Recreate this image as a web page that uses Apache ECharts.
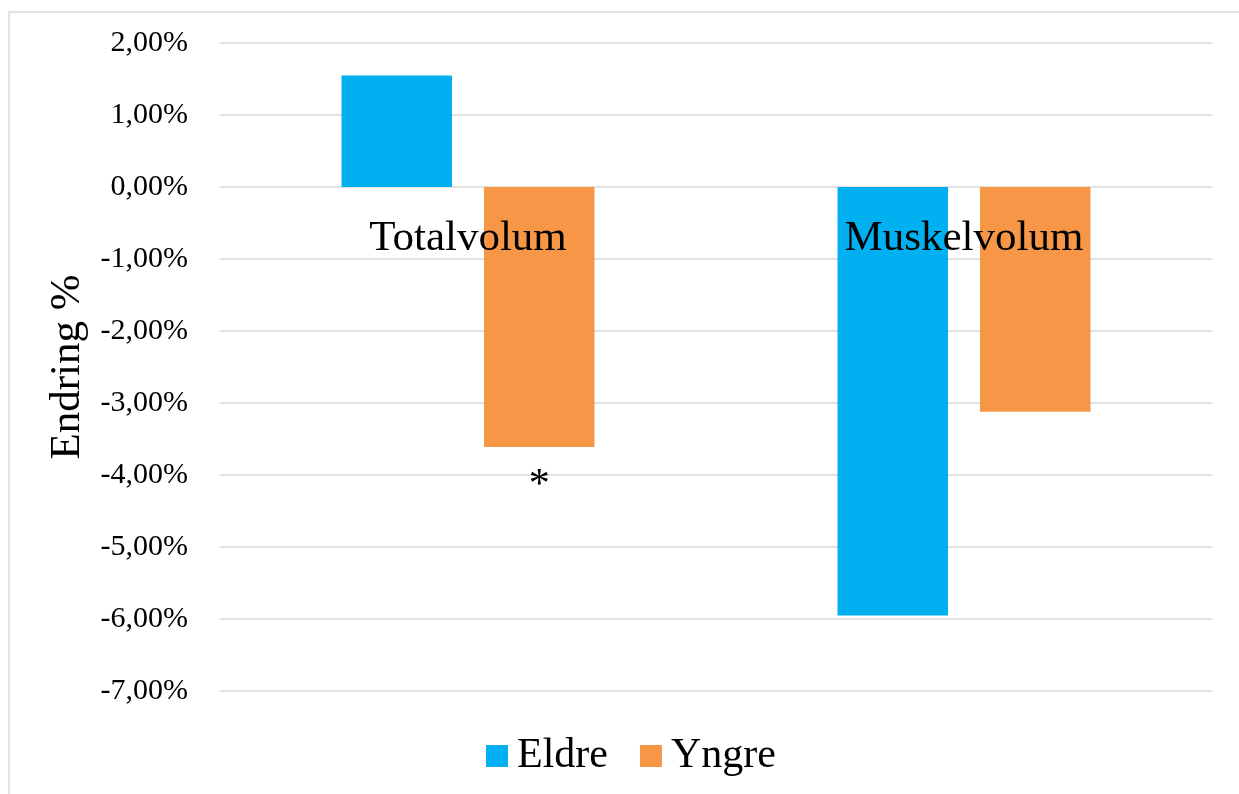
<!DOCTYPE html>
<html>
<head>
<meta charset="utf-8">
<script src="https://cdn.jsdelivr.net/npm/echarts@6/dist/echarts.min.js"></script>
<style>
  html, body { margin: 0; padding: 0; background: #ffffff; }
  #chart { width: 1239px; height: 794px; }
</style>
</head>
<body>
<div id="chart"></div>
<script>
// Change in volume (%) per measure, older vs younger group
const categories = ['Totalvolum', 'Muskelvolum'];
const eldre = [1.55, -5.95];
const yngre = [-3.61, -3.12];
// significance marks shown under the bars
const eldreMarks = ['', ''];
const yngreMarks = ['*', ''];
const yTicks = { min: -7, max: 2, interval: 1 };

const FONT = "'Liberation Serif', 'Times New Roman', serif";
const GRID = { left: 220, right: 27, top: 43, bottom: 103 };
const PLOT_H = 794 - GRID.top - GRID.bottom;

function withMarks(values, marks) {
  return values.map((v, i) => ({
    value: v,
    label: {
      show: marks[i] !== '',
      formatter: marks[i],
      position: 'bottom',
      distance: 18,
      color: '#000',
      fontFamily: FONT,
      fontSize: 42
    }
  }));
}

// category axis sits on the zero line: shift it up from the grid bottom
const zeroOffset = -PLOT_H * (0 - yTicks.min) / (yTicks.max - yTicks.min);

const chart = echarts.init(document.getElementById('chart'), null, { renderer: 'canvas' });
chart.setOption({
  backgroundColor: '#ffffff',
  animation: false,
  graphic: [{
    type: 'rect',
    shape: { x: 9, y: 12, width: 1400, height: 1000 },
    style: { fill: 'none', stroke: '#d9d9d9', lineWidth: 1.5 },
    silent: true,
    z: -10
  }],
  legend: {
    bottom: 17,
    left: 486,
    padding: 0,
    itemWidth: 22,
    itemHeight: 22,
    itemGap: 32,
    icon: 'rect',
    textStyle: { fontFamily: FONT, fontSize: 42, color: '#000', padding: [0, 0, 0, 4] },
    data: ['Eldre', 'Yngre']
  },
  grid: Object.assign({ containLabel: false }, GRID),
  xAxis: {
    type: 'category',
    data: categories,
    position: 'bottom',
    offset: zeroOffset,
    z: 10,
    axisLine: { show: false, onZero: false },
    axisTick: { show: false },
    axisLabel: { fontFamily: FONT, fontSize: 43, color: '#000', margin: 30 },
    splitLine: { show: false }
  },
  yAxis: {
    type: 'value',
    min: yTicks.min,
    max: yTicks.max,
    interval: yTicks.interval,
    name: 'Endring %',
    nameLocation: 'middle',
    nameRotate: 90,
    nameGap: 129,
    nameTextStyle: { fontFamily: FONT, fontSize: 43, color: '#000' },
    axisLine: { show: false },
    axisTick: { show: false },
    axisLabel: {
      fontFamily: FONT, fontSize: 30, color: '#000', margin: 32,
      formatter: v => v.toFixed(2).replace('.', ',') + '%'
    },
    splitLine: { lineStyle: { color: '#d9d9d9', width: 1.5 } }
  },
  series: [
    {
      name: 'Eldre',
      type: 'bar',
      data: withMarks(eldre, eldreMarks),
      itemStyle: { color: '#00B0F0' },
      barGap: '29%',
      barCategoryGap: '49%'
    },
    {
      name: 'Yngre',
      type: 'bar',
      data: withMarks(yngre, yngreMarks),
      itemStyle: { color: '#F79646' }
    }
  ]
});
</script>
</body>
</html>
